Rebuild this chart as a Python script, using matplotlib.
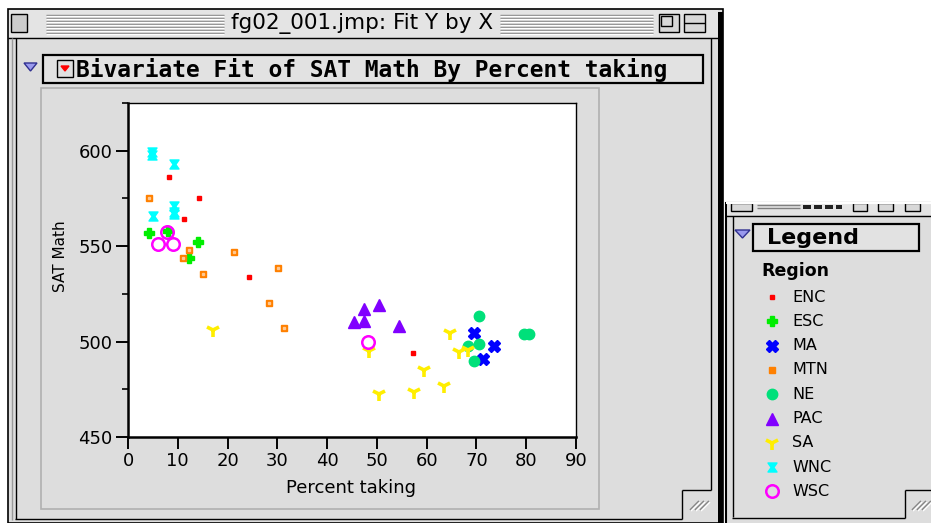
import matplotlib

matplotlib.use("Agg")
import matplotlib.pyplot as plt
from matplotlib.patches import Rectangle, Polygon
from matplotlib.path import Path

# ---- data ----
regions = ["ENC", "ESC", "MA", "MTN", "NE", "PAC", "SA", "WNC", "WSC"]

enc_x = [8.3, 14.3, 11.3, 24.4, 57.3]
enc_y = [586, 575, 564, 534, 494]
esc_x = [4.3, 14.1, 12.3, 8.0]
esc_y = [557, 552, 544, 558]
ma_x = [69.6, 73.6, 71.4]
ma_y = [504.6, 497.8, 491]
mtn_x = [4.3, 12.3, 21.2, 11.1, 15.1, 30.2, 28.4, 31.4]
mtn_y = [575, 548, 547, 544, 535.5, 538.6, 520, 507]
ne_x = [70.6, 70.6, 68.3, 69.6, 79.5, 80.5]
ne_y = [513.5, 498.8, 497.8, 489.8, 504, 504]
pac_x = [50.4, 47.4, 47.4, 45.4, 54.4]
pac_y = [519, 517, 511, 510, 508]
sa_x = [17.1, 48.4, 64.7, 66.5, 68.3, 59.5, 50.4, 57.5, 63.5]
sa_y = [506, 495, 504.6, 494.6, 495.6, 485, 472.6, 473.6, 476.8]
wnc_x = [4.8, 4.8, 9.3, 9.3, 9.3, 9.3, 5.1]
wnc_y = [599.5, 598, 593, 571, 568, 567, 566]
wsc_x = [7.9, 6.0, 9.1, 48.2]
wsc_y = [557.5, 551, 551, 500]

xs = [enc_x, esc_x, ma_x, mtn_x, ne_x, pac_x, sa_x, wnc_x, wsc_x]
ys = [enc_y, esc_y, ma_y, mtn_y, ne_y, pac_y, sa_y, wnc_y, wsc_y]

x_ticks = [0, 10, 20, 30, 40, 50, 60, 70, 80, 90]
y_ticks = [450, 500, 550, 600]
y_minor = [475, 525, 575, 625]

# ---- marker styles per region ----
hourglass = Path([(-1, 1), (1, 1), (0.3, 0), (1, -1), (-1, -1), (-0.3, 0), (-1, 1)],
                 [1, 2, 2, 2, 2, 2, 79])
styles = {
    "ENC": dict(marker="s", ms=3.2, color="#ff0000", mec="#ff0000", ls="none"),
    "ESC": dict(marker="P", ms=6.5, color="#00ee00", mec="#00ee00", ls="none"),
    "MA": dict(marker="X", ms=8, color="#0000ff", mec="#0000ff", ls="none"),
    "MTN": dict(marker="s", ms=4.6, color="#ff8000", mec="#ff8000", ls="none"),
    "NE": dict(marker="o", ms=7.5, color="#00e07a", mec="#00e07a", ls="none"),
    "PAC": dict(marker="^", ms=8, color="#8000ff", mec="#8000ff", ls="none"),
    "SA": dict(marker="1", ms=10, color="#ffee00", mew=2.6, ls="none"),
    "WNC": dict(marker=hourglass, ms=6.5, color="#00ffff", mec="#00ffff", ls="none"),
    "WSC": dict(marker="o", ms=9, mfc="none", mec="#ff00ff", mew=1.8, ls="none"),
}

W, H = 931, 523
GRAY = "#dddddd"

fig = plt.figure(figsize=(W / 100, H / 100), dpi=100)
fig.patch.set_facecolor("white")
bg = fig.add_axes([0, 0, 1, 1])
bg.set_xlim(0, W)
bg.set_ylim(H, 0)
bg.axis("off")


def rect(x0, y0, x1, y1, fc="none", ec="none", lw=1.0, z=1):
    bg.add_patch(Rectangle((x0, y0), x1 - x0, y1 - y0, fc=fc, ec=ec, lw=lw, zorder=z))


def line(px, py, c="black", lw=1.0, z=2):
    bg.plot(px, py, color=c, lw=lw, zorder=z, solid_capstyle="butt")


def grow_box(x0, y0):
    for k in range(3):
        line([x0 + 5 * k, x0 + 5 * k + 9], [y0 + 14, y0 + 5], c="#888888", lw=1.2, z=3)
        line([x0 + 5 * k + 1, x0 + 5 * k + 10], [y0 + 15, y0 + 6], c="white", lw=1.0, z=3)


# ---- main window chrome ----
rect(8, 9, 723, 523, fc=GRAY, ec="black", lw=1.2)
rect(9, 10, 718, 37, fc="#e4e4e4")
line([8, 722], [37.5, 37.5])
for yy in range(15, 34, 3):
    for a, b in [(46, 224), (500, 653)]:
        line([a, b], [yy, yy], c="#808080")
        line([a, b], [yy + 1, yy + 1], c="white")
rect(11, 14, 27, 32, fc="#cccccc", ec="black", z=3)
rect(659, 14, 679, 32, fc="#d8d8d8", ec="black", z=3)
rect(661, 16, 672, 26, fc="#d8d8d8", ec="black", z=3)
rect(684, 14, 705, 32, fc="#d8d8d8", ec="black", z=3)
line([684, 705], [23, 23], z=4)
bg.text(362, 23.5, "fg02_001.jmp: Fit Y by X", ha="center", va="center",
        fontsize=15.5, zorder=4)

rect(718, 12, 723, 523, fc="black", z=3)
line([12, 12], [38, 520], c="#999999")
line([15.5, 15.5], [38, 518.5])
line([15, 682], [518.5, 518.5])
line([682, 682], [490, 518.5])
line([682, 711], [490, 490])
line([711, 711], [38, 490])
grow_box(690, 496)

# outline header
bg.add_patch(Polygon([(24, 63), (37, 63), (30.5, 71)], closed=True,
                     fc="#9a9aee", ec="#303090", lw=1, zorder=3))
rect(43, 55, 703, 83, fc="#e2e2e2", ec="black", lw=1.6, z=2)
rect(57, 60, 73, 77, fc="#e0e0e0", ec="black", z=3)
bg.add_patch(Polygon([(61, 66), (69, 66), (65, 71)], closed=True, fc="red", ec="red", zorder=4))
bg.text(76, 69.5, "Bivariate Fit of SAT Math By Percent taking", ha="left", va="center",
        fontsize=16.5, family="DejaVu Sans Mono", weight="bold", zorder=4)
rect(41, 88, 599, 509, fc=GRAY, ec="#b0b0b0", lw=1.2, z=2)

# ---- legend window chrome (its top is hidden above y=203) ----
rect(726, 203, 936, 528, fc=GRAY, ec="black", lw=1.5, z=1)
rect(727, 203.5, 936, 215, fc="#e4e4e4", z=1)
line([726, 931], [215.5, 215.5])
line([726, 931], [203, 203], c="white", lw=1.5, z=5)
for a, b in [(731, 752), (853, 867), (878, 893), (905, 920)]:
    rect(a, 203, b, 211, fc="#d8d8d8", ec="black", z=3)
for yy in (205, 208):
    line([757, 800], [yy, yy], c="#808080")
for a, b in [(803, 811), (814, 822), (825, 833), (836, 842)]:
    rect(a, 205, b, 209, fc="#222222", z=3)
line([732.5, 732.5], [216, 517])
line([732, 905], [517.5, 517.5])
line([905, 905], [490, 517.5])
line([905, 931], [490, 490])
grow_box(912, 496)

bg.add_patch(Polygon([(735, 230), (750, 230), (742.5, 238)], closed=True,
                     fc="#9a9aee", ec="#303090", lw=1, zorder=3))
rect(753, 224, 919, 251, fc="#e2e2e2", ec="black", lw=1.6, z=2)
bg.text(767, 238.5, "Legend", ha="left", va="center", fontsize=16, weight="bold", zorder=4)
bg.text(761, 271, "Region", ha="left", va="center", fontsize=12.5, weight="bold", zorder=4)
for i, reg in enumerate(regions):
    yy = 297 + i * 24.3
    bg.plot([772], [yy], zorder=4, **styles[reg])
    bg.text(792, yy, reg, ha="left", va="center", fontsize=11.5, zorder=4)

# ---- the scatter plot itself ----
ax = fig.add_axes([128 / W, (H - 437) / H, 448 / W, 334 / H])
ax.set_facecolor("white")
for reg, px, py in zip(regions, xs, ys):
    ax.plot(px, py, **styles[reg], clip_on=False)
    if reg == "MTN":
        ax.plot(px, py, "s", ms=1.4, color="#ffc890", ls="none")

ax.set_xlim(0, 90)
ax.set_ylim(450, 625)
ax.set_xticks(x_ticks)
ax.set_yticks(y_ticks)
ax.set_yticks(y_minor, minor=True)
ax.tick_params(which="major", length=9, width=1.4, labelsize=13, pad=2)
ax.tick_params(which="minor", length=4.5, width=1.2)
ax.tick_params(axis="x", length=8.5, pad=2)
for s in ("left", "bottom"):
    ax.spines[s].set_linewidth(1.8)
for s in ("top", "right"):
    ax.spines[s].set_linewidth(1.0)

ax.set_xlabel("Percent taking", fontsize=13)
ax.xaxis.set_label_coords(0.498, -0.125)
ax.set_ylabel("SAT Math", fontsize=11)
ax.yaxis.set_label_coords(-0.133, 0.54)

fig.savefig("out.png", dpi=100, facecolor=fig.get_facecolor())
